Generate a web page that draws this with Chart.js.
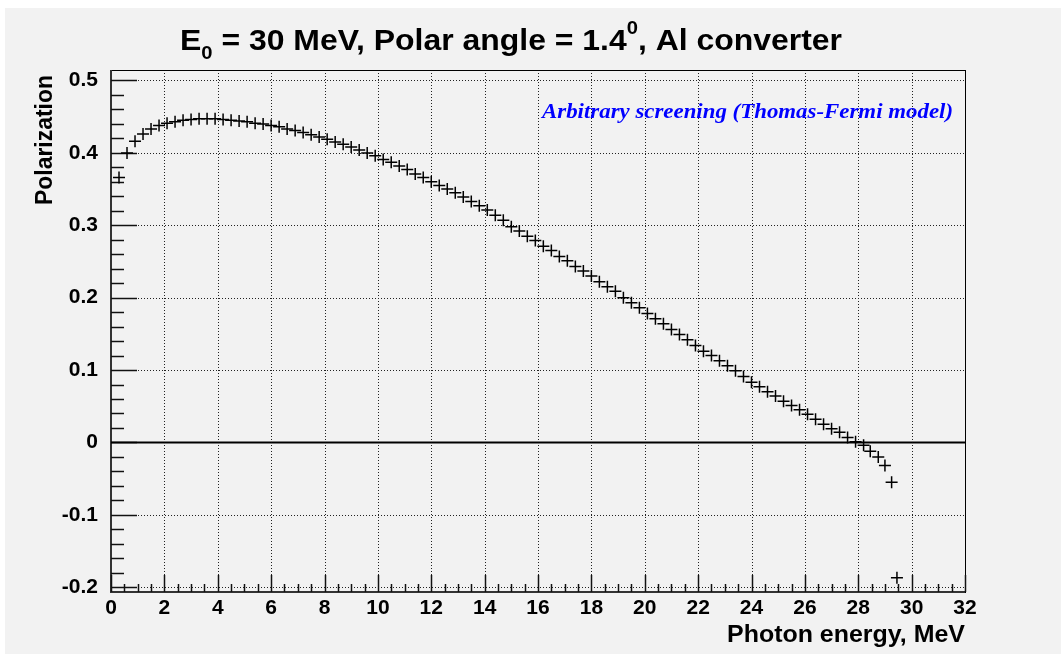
<!DOCTYPE html>
<html>
<head>
<meta charset="utf-8">
<script src="https://cdn.jsdelivr.net/npm/chart.js@4.4.0/dist/chart.umd.min.js"></script>
<style>
  html, body { margin: 0; padding: 0; background: #ffffff; }
  canvas { display: block; }
</style>
</head>
<body>
<canvas id="c" width="1061" height="654"></canvas>
<script>
// ---- data ----
const energy = [
  0.3, 0.6, 0.9, 1.2, 1.5, 1.8, 2.1, 2.4, 2.7, 3.0,
  3.3, 3.6, 3.9, 4.2, 4.5, 4.8, 5.1, 5.4, 5.7, 6.0,
  6.3, 6.6, 6.9, 7.2, 7.5, 7.8, 8.1, 8.4, 8.7, 9.0,
  9.3, 9.6, 9.9, 10.2, 10.5, 10.8, 11.1, 11.4, 11.7, 12.0,
  12.3, 12.6, 12.9, 13.2, 13.5, 13.8, 14.1, 14.4, 14.7, 15.0,
  15.3, 15.6, 15.9, 16.2, 16.5, 16.8, 17.1, 17.4, 17.7, 18.0,
  18.3, 18.6, 18.9, 19.2, 19.5, 19.8, 20.1, 20.4, 20.7, 21.0,
  21.3, 21.6, 21.9, 22.2, 22.5, 22.8, 23.1, 23.4, 23.7, 24.0,
  24.3, 24.6, 24.9, 25.2, 25.5, 25.8, 26.1, 26.4, 26.7, 27.0,
  27.3, 27.6, 27.9, 28.2, 28.45, 28.75, 29.0, 29.25, 29.45
];
const polarization = [
  0.366, 0.400, 0.416, 0.426, 0.433, 0.438, 0.441, 0.443, 0.445, 0.446,
  0.447, 0.447, 0.447, 0.446, 0.445, 0.444, 0.443, 0.441, 0.440, 0.438,
  0.436, 0.433, 0.431, 0.428, 0.425, 0.422, 0.419, 0.415, 0.412, 0.408,
  0.404, 0.400, 0.396, 0.391, 0.387, 0.382, 0.377, 0.371, 0.366, 0.360,
  0.355, 0.350, 0.345, 0.339, 0.333, 0.327, 0.321, 0.314, 0.307, 0.298,
  0.292, 0.285, 0.279, 0.271, 0.265, 0.257, 0.251, 0.243, 0.237, 0.230,
  0.222, 0.215, 0.209, 0.200, 0.193, 0.186, 0.178, 0.171, 0.164, 0.156,
  0.149, 0.142, 0.134, 0.126, 0.120, 0.113, 0.106, 0.099, 0.091, 0.083,
  0.077, 0.070, 0.064, 0.057, 0.051, 0.045, 0.039, 0.032, 0.025, 0.019,
  0.014, 0.007, 0.001, -0.004, -0.012, -0.020, -0.032, -0.055, -0.187
];
const xTickLabels = [0, 2, 4, 6, 8, 10, 12, 14, 16, 18, 20, 22, 24, 26, 28, 30, 32];
const yTickLabels = [-0.2, -0.1, 0, 0.1, 0.2, 0.3, 0.4, 0.5];
const xMinorStep = 0.5;
const yMinorStep = 0.02;
const xRange = [0, 32];
const yRange = [-0.2066, 0.5145];
const titleParts = [
  { t: 'E', k: 'n' }, { t: '0', k: 'sub' },
  { t: ' = 30 MeV, Polar angle = 1.4', k: 'n' }, { t: '0', k: 'sup' },
  { t: ', Al converter', k: 'n' }
];
const xTitle = 'Photon energy, MeV';
const yTitle = 'Polarization';
const noteText = 'Arbitrary screening (Thomas-Fermi model)';

const points = energy.map((e, i) => ({ x: e, y: polarization[i] }));
const BG = '#f2f2f2';

function fitText(ctx, text, x, y, w) {
  const m = ctx.measureText(text).width;
  ctx.save();
  ctx.translate(x, y);
  ctx.scale(w / m, 1);
  ctx.fillText(text, 0, 0);
  ctx.restore();
}

const rootStyle = {
  id: 'rootStyle',
  beforeDraw(chart) {
    const ctx = chart.ctx;
    ctx.save();
    ctx.fillStyle = '#ffffff';
    ctx.fillRect(0, 0, chart.width, chart.height);
    ctx.fillStyle = BG;
    ctx.fillRect(5, 8, chart.width - 5, chart.height - 8);
    ctx.restore();
  },
  beforeDatasetsDraw(chart) {
    const ctx = chart.ctx;
    const a = chart.chartArea;
    const xs = chart.scales.x, ys = chart.scales.y;
    ctx.save();
    ctx.strokeStyle = '#222';
    ctx.lineWidth = 1;
    ctx.setLineDash([1, 2]);
    xTickLabels.forEach(v => {
      if (v === xRange[0]) return;
      const px = Math.round(xs.getPixelForValue(v)) + 0.5;
      ctx.beginPath(); ctx.moveTo(px, a.top); ctx.lineTo(px, a.bottom); ctx.stroke();
    });
    yTickLabels.forEach(v => {
      const py = Math.round(ys.getPixelForValue(v)) + 0.5;
      ctx.beginPath(); ctx.moveTo(a.left, py); ctx.lineTo(a.right, py); ctx.stroke();
    });
    ctx.setLineDash([]);
    ctx.strokeStyle = '#000';
    ctx.lineWidth = 1;
    ctx.strokeRect(Math.round(a.left) + 0.5, Math.round(a.top) + 0.5,
      Math.round(a.right - a.left), Math.round(a.bottom - a.top));
    ctx.strokeStyle = '#333';
    ctx.lineWidth = 2;
    ctx.beginPath(); ctx.moveTo(a.left, a.top); ctx.lineTo(a.left, a.bottom); ctx.lineTo(a.right, a.bottom); ctx.stroke();
    ctx.lineWidth = 1.5;
    ctx.strokeStyle = '#111';
    const nY = Math.round((yTickLabels[yTickLabels.length - 1] - yTickLabels[0]) / yMinorStep);
    for (let i = 0; i <= nY; i++) {
      const v = yTickLabels[0] + i * yMinorStep;
      const major = i % 5 === 0;
      const py = Math.round(ys.getPixelForValue(v)) + 0.5;
      ctx.beginPath(); ctx.moveTo(a.left, py); ctx.lineTo(a.left + (major ? 26 : 13), py); ctx.stroke();
    }
    const nX = Math.round((xRange[1] - xRange[0]) / xMinorStep);
    for (let i = 0; i <= nX; i++) {
      const v = xRange[0] + i * xMinorStep;
      const major = i % 4 === 0;
      const px = Math.round(xs.getPixelForValue(v)) + 0.5;
      ctx.beginPath(); ctx.moveTo(px, a.bottom); ctx.lineTo(px, a.bottom - (major ? 17 : 8)); ctx.stroke();
    }
    const y0 = ys.getPixelForValue(0);
    ctx.strokeStyle = '#000';
    ctx.lineWidth = 2;
    ctx.beginPath(); ctx.moveTo(a.left, y0); ctx.lineTo(a.right, y0); ctx.stroke();
    ctx.restore();
  },
  afterDraw(chart) {
    const ctx = chart.ctx;
    const a = chart.chartArea;
    ctx.save();
    const big = 'bold 30px "Liberation Sans", Arial, sans-serif';
    const small = 'bold 19px "Liberation Sans", Arial, sans-serif';
    let total = 0;
    titleParts.forEach(p => { ctx.font = p.k === 'n' ? big : small; p.w = ctx.measureText(p.t).width; total += p.w; });
    const targetW = 662;
    const sx = targetW / total;
    const cx = 511;
    ctx.translate(cx - targetW / 2, 0);
    ctx.scale(sx, 1);
    ctx.fillStyle = '#000';
    ctx.textBaseline = 'alphabetic';
    ctx.textAlign = 'left';
    let x = 0;
    titleParts.forEach(p => {
      ctx.font = p.k === 'n' ? big : small;
      const by = p.k === 'n' ? 50 : (p.k === 'sub' ? 59 : 34);
      ctx.fillText(p.t, x, by);
      x += p.w;
    });
    ctx.setTransform(1, 0, 0, 1, 0, 0);
    // x title
    ctx.font = 'bold 24px "Liberation Sans", Arial, sans-serif';
    ctx.textAlign = 'left';
    ctx.textBaseline = 'alphabetic';
    fitText(ctx, xTitle, 727, 642, 238);
    // y title
    ctx.save();
    ctx.translate(52, 205);
    ctx.rotate(-Math.PI / 2);
    ctx.font = 'bold 23px "Liberation Sans", Arial, sans-serif';
    fitText(ctx, yTitle, 0, 0, 130);
    ctx.restore();
    // note
    ctx.font = 'italic bold 20px "Liberation Serif", "Times New Roman", serif';
    ctx.fillStyle = '#0000ff';
    ctx.textBaseline = 'middle';
    fitText(ctx, noteText, 542, 113, 411);
    ctx.restore();
  }
};

new Chart(document.getElementById('c'), {
  type: 'scatter',
  data: {
    datasets: [{
      data: points,
      pointStyle: 'cross',
      pointRadius: 6,
      pointHoverRadius: 6,
      borderColor: '#000',
      backgroundColor: '#000',
      borderWidth: 1.5,
      showLine: false
    }]
  },
  options: {
    responsive: false,
    devicePixelRatio: 1,
    animation: false,
    events: [],
    layout: { padding: { left: 0, right: 96, top: 70, bottom: 0 } },
    plugins: { legend: { display: false }, title: { display: false }, tooltip: { enabled: false } },
    scales: {
      x: {
        type: 'linear', min: xRange[0], max: xRange[1],
        afterBuildTicks: s => { s.ticks = xTickLabels.map(v => ({ value: v })); },
        afterFit: s => { s.height = 62; },
        grid: { display: false, drawTicks: false },
        border: { display: false },
        ticks: { color: '#000', padding: 4, maxRotation: 0, autoSkip: false,
          font: { family: '"Liberation Sans", Arial, sans-serif', size: 21, weight: 'bold' },
          callback: v => String(v) }
      },
      y: {
        type: 'linear', min: yRange[0], max: yRange[1],
        afterBuildTicks: s => { s.ticks = yTickLabels.map(v => ({ value: v })); },
        afterFit: s => { s.width = 111; },
        grid: { display: false, drawTicks: false },
        border: { display: false },
        ticks: { color: '#000', padding: 13, autoSkip: false,
          font: { family: '"Liberation Sans", Arial, sans-serif', size: 21, weight: 'bold' },
          callback: v => String(Math.round(v * 10) / 10) }
      }
    }
  },
  plugins: [rootStyle]
});
</script>
</body>
</html>
